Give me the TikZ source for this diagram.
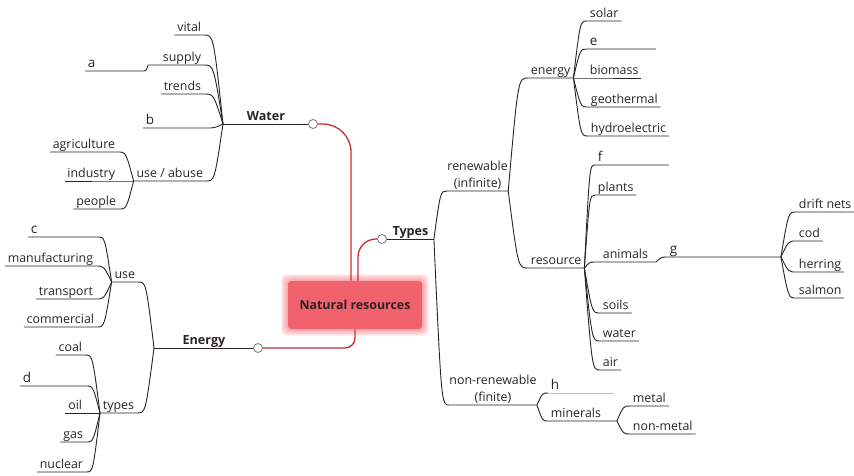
\documentclass[tikz,border=0pt]{standalone}
\usepackage{fontspec}
\setmainfont{Open Sans}
\usetikzlibrary{calc}
\definecolor{ink}{RGB}{40,36,36}
\definecolor{corefill}{RGB}{242,98,108}
\definecolor{redline}{RGB}{205,42,52}
\definecolor{knobline}{RGB}{125,115,115}
\begin{document}
\begin{tikzpicture} [
  x=1pt, y=-1pt,
  line width=0.9pt, draw=ink, text=ink,
  every node/.style= {font=\fontsize{12.4}{17}\selectfont},
  branch/.style= {to path={.. controls ($(\tikztotarget)!0.5!(\tikztostart|-\tikztotarget)$) .. (\tikztotarget)}},
  rleaf/.style= {anchor=south west, inner xsep=2.5pt, inner ysep=3pt, text depth=0pt},
  lleaf/.style= {rleaf, anchor=south east},
  blank/.style= {rleaf, font=\fontsize{13.5}{17}\selectfont},
  main/.style= {rleaf, font=\fontsize{12.6}{17}\selectfont\bfseries},
  knob/.style= {circle, draw=knobline, fill=white, line width=0.8pt, inner sep=0pt, minimum size=9pt},
  core/.style= {fill=corefill, rounded corners=3pt, minimum width=134pt, minimum height=48pt, font=\fontsize{12.4}{17}\selectfont\bfseries},
  red link/.style= {draw=redline, line width=1.3pt},
  faint/.style= {draw=black!25, line width=0.6pt},
]
\useasboundingbox (0,0) rectangle (854,475);

% centre, with a soft halo round the box
\foreach \g in {7,6,5,4,3,2,1}
  \fill [corefill, opacity=0.1, rounded corners=6pt] (288-\g,281-\g) rectangle (422+\g,329+\g);
\node (nr) [core] at (355,305) {Natural resources};

% water
\node (water) [main, minimum width=85pt] at (223,124) {Water};
\node (wk) [knob] at (313,124) {};
\node (vital) [lleaf] at (204,35) {vital};
\node (supply) [lleaf, text width=50pt, align=right] at (204,65) {supply};
\node (a) [blank, text width=53pt] at (85,71) {a};
\node (trends) [lleaf] at (204,94) {trends};
\node (b) [blank, text width=57pt] at (143,128) {b};
\node (useabuse) [lleaf] at (206,181) {use / abuse};
\node (agriculture) [lleaf] at (118,152) {agriculture};
\node (industry) [lleaf] at (118,181) {industry};
\node (people) [lleaf] at (119,209) {people};

% energy
\node (energy) [main, minimum width=99pt] at (154,348) {Energy};
\node (ek) [knob] at (258,348) {};
\node (use) [lleaf] at (138,282) {use};
\node (c) [blank, text width=64pt] at (28,237) {c};
\node (manufacturing) [lleaf] at (96,266) {manufacturing};
\node (transport) [lleaf] at (96,299) {transport};
\node (commercial) [lleaf] at (97,327) {commercial};
\node (etypes) [lleaf] at (137,413) {types};
\node (coal) [lleaf] at (85,355) {coal};
\node (d) [blank, text width=60pt] at (20,386) {d};
\node (oil) [lleaf] at (85,413) {oil};
\node (gas) [lleaf] at (86,442) {gas};
\node (nuclear) [lleaf] at (86,472) {nuclear};

% types
\node (types) [main, minimum width=46pt] at (387,239) {Types};
\node (tk) [knob] at (382,239) {};
\node (renew) [rleaf, inner xsep=0pt, align=center] at (447,191) {renewable\\(infinite)};
\node (nonrenew) [rleaf, inner xsep=0pt, align=center] at (449,405) {non-renewable\\(finite)};
\node (renergy) [rleaf] at (528,78) {energy};
\node (resource) [rleaf] at (528,268) {resource};
\node (solar) [rleaf] at (587,21) {solar};
\node (e) [blank, text width=63pt] at (587,49) {e};
\node (biomass) [rleaf] at (587,78) {biomass};
\node (geothermal) [rleaf] at (588,107) {geothermal};
\node (hydroelectric) [rleaf] at (588,136) {hydroelectric};
\node (f) [blank, text width=68pt] at (595,165) {f};
\node (plants) [rleaf] at (595,195) {plants};
\node (animals) [rleaf, minimum width=60pt, align=left] at (595,262) {animals};
\node (g) [blank, text width=108pt] at (667,257) {g};
\node (soils) [rleaf] at (600,313) {soils};
\node (rwater) [rleaf] at (600,341) {water};
\node (air) [rleaf] at (600,370) {air};
\node (driftnets) [rleaf] at (796,212) {drift nets};
\node (cod) [rleaf] at (796,241) {cod};
\node (herring) [rleaf] at (796,272) {herring};
\node (salmon) [rleaf] at (796,298) {salmon};
\node (h) [blank, text width=60pt] at (548,393) {h};
\node (minerals) [rleaf, text width=63pt] at (548,421) {minerals};
\node (metal) [rleaf] at (630,406) {metal};
\node (nonmetal) [rleaf] at (630,434) {non-metal};

% red links to the centre
\draw [red link, rounded corners=28pt] (wk) -| ([xshift=-4pt]nr.north);
\draw [red link, rounded corners=18pt] ([xshift=3pt]nr.north) |- (tk);
\draw [red link, rounded corners=10pt] (ek) -| (nr.south);

% main underlines
\draw (water.south west) -- (wk);
\draw (energy.south west) -- (ek);
\draw (tk) -- (types.south east);

% left side branches
\foreach \n in {vital,supply,trends,b,useabuse}
  \draw (water.south west) to[branch] (\n.south east) -- (\n.south west);
\draw (supply.south west) to[branch] (a.south east) -- (a.south west);
\foreach \n in {agriculture,industry,people}
  \draw (useabuse.south west) to[branch] (\n.south east) -- (\n.south west);
\foreach \n in {use,etypes}
  \draw (energy.south west) to[branch] (\n.south east) -- (\n.south west);
\foreach \n in {c,manufacturing,transport,commercial}
  \draw (use.south west) to[branch] (\n.south east) -- (\n.south west);
\foreach \n in {coal,d,oil,gas,nuclear}
  \draw (etypes.south west) to[branch] (\n.south east) -- (\n.south west);

% right side branches
\foreach \n in {renew,nonrenew}
  \draw (types.south east) to[branch] (\n.south west) -- (\n.south east);
\foreach \n in {renergy,resource}
  \draw (renew.south east) to[branch] (\n.south west) -- (\n.south east);
\foreach \n in {solar,e,biomass,geothermal,hydroelectric}
  \draw (renergy.south east) to[branch] (\n.south west) -- (\n.south east);
\foreach \n in {f,plants,animals,soils,rwater,air}
  \draw (resource.south east) to[branch] (\n.south west) -- (\n.south east);
\draw (animals.south east) to[branch] (g.south west) -- (g.south east);
\foreach \n in {driftnets,cod,herring,salmon}
  \draw (g.south east) to[branch] (\n.south west) -- (\n.south east);
\draw (nonrenew.south east) to[branch] (h.south west);
\draw [faint] (h.south west) -- (h.south east);
\draw (nonrenew.south east) to[branch] (minerals.south west) -- (minerals.south east);
\foreach \n in {metal,nonmetal}
  \draw (minerals.south east) to[branch] (\n.south west) -- (\n.south east);
\end{tikzpicture}
\end{document}
